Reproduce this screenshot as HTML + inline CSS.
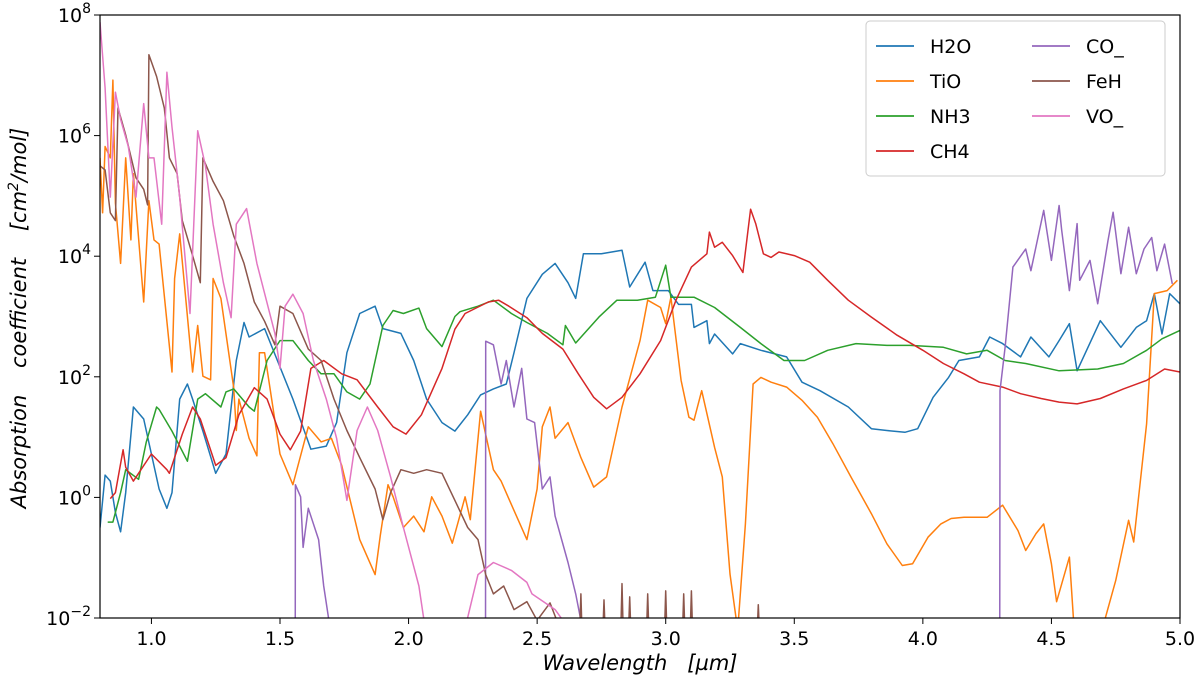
<!DOCTYPE html>
<html><head><meta charset="utf-8"><style>
html,body{margin:0;padding:0;background:#fff}
svg{display:block;font-family:"DejaVu Sans","Liberation Sans",sans-serif}
.pre{white-space:pre}
</style></head><body>
<svg id="chart" width="1200" height="681" viewBox="0 0 1200 681" xmlns="http://www.w3.org/2000/svg">
<defs><clipPath id="clip"><rect x="100" y="15" width="1080" height="603"/></clipPath></defs>
<g id="series" clip-path="url(#clip)"></g>
<rect x="100" y="15" width="1080" height="603" fill="none" stroke="#000" stroke-width="1.2"/>
<g id="axes"></g>
<text class="pre" x="640" y="670" text-anchor="middle" font-size="21" font-style="italic">Wavelength   [µm]</text>
<text class="pre" transform="translate(26,318) rotate(-90)" text-anchor="middle" font-size="21" font-style="italic">Absorption    coefficient    [cm<tspan dy="-8" font-size="14">2</tspan><tspan dy="8">/mol]</tspan></text>
<g id="legend"></g>
</svg>
<script>
const xTicks=[1.0,1.5,2.0,2.5,3.0,3.5,4.0,4.5,5.0];
const yTicks=[-2,0,2,4,6,8];
const seriesNames=["H2O","TiO","NH3","CH4","CO_","FeH","VO_"];
const seriesColors=["#1f77b4","#ff7f0e","#2ca02c","#d62728","#9467bd","#8c564b","#e377c2"];

const h2oX=[0.80,0.82,0.84,0.86,0.88,0.90,0.93,0.97,1.0,1.03,1.06,1.08,1.11,1.14,1.16,1.20,1.25,1.29,1.33,1.36,1.38,1.44,1.49,1.55,1.62,1.68,1.72,1.76,1.81,1.87,1.90,1.97,2.02,2.07,2.13,2.18,2.23,2.28,2.33,2.38,2.41,2.46,2.52,2.57,2.62,2.65,2.68,2.75,2.83,2.86,2.92,2.95,3.01,3.05,3.10,3.11,3.16,3.17,3.19,3.26,3.29,3.37,3.47,3.53,3.60,3.71,3.80,3.86,3.93,3.98,4.04,4.10,4.14,4.22,4.26,4.31,4.38,4.42,4.49,4.53,4.57,4.60,4.69,4.77,4.83,4.87,4.90,4.93,4.96,5.0];
const h2oY=[-0.5,0.37,0.27,-0.25,-0.57,0.08,1.5,1.3,0.72,0.14,-0.18,0.08,1.63,1.88,1.63,1.1,0.4,0.72,2.27,2.9,2.66,2.8,2.27,1.63,0.8,0.85,1.24,2.4,3.05,3.17,2.8,2.72,2.27,1.63,1.24,1.1,1.37,1.7,1.8,1.88,2.4,3.3,3.7,3.88,3.56,3.3,4.04,4.04,4.1,3.49,3.9,3.43,3.43,3.2,3.2,2.82,2.93,2.55,2.71,2.38,2.55,2.44,2.33,1.91,1.77,1.5,1.14,1.11,1.08,1.14,1.66,1.99,2.27,2.33,2.66,2.55,2.33,2.66,2.33,2.6,2.88,2.1,2.93,2.49,2.82,2.93,3.38,2.71,3.38,3.21];

const tioX=[0.80,0.81,0.82,0.84,0.85,0.86,0.88,0.90,0.92,0.93,0.97,0.99,1.01,1.03,1.08,1.09,1.11,1.16,1.18,1.20,1.23,1.24,1.27,1.32,1.33,1.34,1.38,1.41,1.42,1.44,1.50,1.55,1.61,1.66,1.70,1.74,1.81,1.87,1.89,1.92,1.94,1.98,2.02,2.06,2.09,2.13,2.17,2.22,2.24,2.28,2.33,2.36,2.40,2.46,2.50,2.52,2.55,2.57,2.62,2.67,2.72,2.77,2.83,2.90,2.93,2.98,3.0,3.02,3.06,3.09,3.11,3.14,3.19,3.22,3.25,3.28,3.31,3.34,3.37,3.41,3.47,3.53,3.59,3.65,3.72,3.80,3.86,3.92,3.96,4.02,4.07,4.11,4.16,4.25,4.31,4.37,4.40,4.44,4.47,4.50,4.52,4.57,4.59,4.69,4.75,4.80,4.82,4.87,4.90,4.95,4.99];
const tioY=[5.63,4.72,5.82,5.63,6.92,4.88,3.88,5.63,4.27,5.37,3.24,4.92,4.27,4.2,2.08,3.63,4.37,2.08,2.85,2.01,1.95,3.63,3.3,1.82,1.11,1.63,0.98,0.69,2.4,2.4,0.72,0.21,1.17,0.92,0.98,0.53,-0.7,-1.28,-0.63,0.21,0.01,-0.5,-0.31,-0.57,0.01,-0.31,-0.76,0.01,-0.37,1.43,0.46,0.27,-0.12,-0.7,0.14,1.17,1.5,0.98,1.24,0.66,0.17,0.34,1.5,2.6,3.27,3.15,2.88,3.32,1.94,1.33,1.28,1.77,0.83,0.34,-1.27,-2.2,-0.44,1.88,1.99,1.91,1.83,1.61,1.33,0.89,0.34,-0.27,-0.77,-1.13,-1.1,-0.66,-0.44,-0.35,-0.33,-0.33,-0.13,-0.55,-0.88,-0.6,-0.44,-1.1,-1.73,-0.99,-2.3,-2.3,-1.38,-0.38,-0.74,1.22,3.38,3.43,3.6];

const nh3X=[0.83,0.85,0.88,0.90,0.95,0.98,1.02,1.03,1.08,1.14,1.18,1.21,1.27,1.29,1.32,1.38,1.40,1.45,1.50,1.55,1.61,1.66,1.71,1.76,1.81,1.85,1.90,1.94,1.98,2.04,2.07,2.13,2.18,2.20,2.27,2.33,2.40,2.46,2.54,2.60,2.61,2.65,2.74,2.81,2.89,2.96,3.0,3.02,3.11,3.19,3.29,3.37,3.46,3.54,3.63,3.74,3.86,3.95,4.08,4.17,4.25,4.32,4.40,4.53,4.68,4.78,4.87,4.93,5.0];
const nh3Y=[-0.41,-0.41,0.08,0.46,0.3,0.92,1.5,1.46,1.1,0.6,1.63,1.72,1.5,1.75,1.8,1.5,1.43,2.27,2.6,2.6,2.27,2.05,2.05,1.75,1.63,1.88,2.85,3.1,3.05,3.14,2.8,2.5,3.0,3.08,3.17,3.27,3.05,2.9,2.72,2.53,2.85,2.56,2.99,3.27,3.27,3.32,3.85,3.32,3.32,3.15,2.82,2.55,2.27,2.27,2.44,2.55,2.52,2.52,2.49,2.38,2.44,2.27,2.22,2.1,2.13,2.22,2.44,2.63,2.77];

const ch4X=[0.84,0.86,0.89,0.90,0.93,1.0,1.06,1.07,1.12,1.16,1.19,1.25,1.29,1.34,1.40,1.45,1.50,1.54,1.58,1.62,1.67,1.74,1.80,1.88,1.94,1.99,2.05,2.13,2.18,2.22,2.31,2.35,2.39,2.46,2.52,2.60,2.66,2.72,2.77,2.83,2.90,2.98,3.04,3.10,3.16,3.17,3.19,3.22,3.26,3.30,3.32,3.33,3.35,3.38,3.41,3.44,3.50,3.56,3.63,3.71,3.80,3.90,4.0,4.08,4.16,4.22,4.31,4.38,4.46,4.53,4.60,4.69,4.78,4.87,4.94,5.0];
const ch4Y=[-0.02,0.08,0.79,0.5,0.27,0.72,0.46,0.4,1.05,1.5,1.3,0.53,0.66,1.37,1.82,1.63,1.05,0.79,1.1,2.14,2.27,2.05,1.95,1.5,1.17,1.05,1.37,2.14,2.79,3.05,3.24,3.27,3.17,2.98,2.72,2.46,2.05,1.66,1.47,1.66,2.05,2.6,3.27,3.82,4.04,4.4,4.15,4.23,4.01,3.73,4.43,4.78,4.54,4.04,3.98,4.07,4.01,3.9,3.6,3.27,2.99,2.69,2.44,2.22,2.05,1.91,1.83,1.72,1.64,1.58,1.55,1.64,1.8,1.94,2.13,2.08];

const coX=[1.559,1.56,1.58,1.59,1.61,1.65,1.67,1.69,1.70,null,2.299,2.30,2.33,2.36,2.38,2.41,2.44,2.46,2.49,2.52,2.55,2.57,2.62,2.65,2.67,2.68,null,4.299,4.30,4.32,4.35,4.40,4.42,4.47,4.50,4.53,4.54,4.57,4.60,4.61,4.65,4.68,4.72,4.74,4.77,4.80,4.83,4.86,4.89,4.91,4.94,4.97,5.0];
const coY=[-3,0.21,0.01,-0.83,-0.18,-0.7,-1.47,-2.04,-3,null,-3,2.59,2.53,1.88,2.27,1.5,2.14,1.3,1.24,0.14,0.34,-0.31,-1.08,-1.6,-2.04,-3,null,-3,1.77,2.49,3.82,4.12,3.76,4.76,3.93,4.84,4.43,3.43,4.54,3.6,3.93,3.21,4.26,4.73,3.71,4.48,3.71,4.12,4.31,3.76,4.2,3.54];

const fehX=[0.80,0.82,0.84,0.86,0.87,0.90,0.94,0.97,0.985,0.99,1.02,1.05,1.07,1.10,1.12,1.16,1.19,1.20,1.24,1.28,1.32,1.36,1.40,1.44,1.48,1.50,1.55,1.61,1.66,1.71,1.76,1.81,1.87,1.90,1.93,1.97,2.02,2.07,2.13,2.18,2.23,2.27,2.30,2.33,2.37,2.41,2.46,2.50,2.55,2.60,2.665,2.67,2.675,2.755,2.76,2.765,2.825,2.83,2.835,2.855,2.86,2.865,2.925,2.93,2.935,2.995,3.0,3.005,3.065,3.07,3.075,3.095,3.10,3.105,3.355,3.36,3.365];
const fehY=[5.5,5.43,4.72,4.59,6.46,6.01,5.3,5.11,4.85,7.34,6.98,6.46,5.63,5.37,4.59,4.01,3.56,5.63,5.24,4.92,4.34,3.88,3.24,2.92,2.53,3.17,3.05,2.46,2.27,1.63,1.11,0.66,0.14,-0.37,0.08,0.46,0.4,0.46,0.4,-0.05,-0.5,-0.7,-1.28,-1.6,-1.47,-1.86,-1.73,-2.04,-1.75,-2.3,-2.3,-1.6,-2.3,-2.3,-1.7,-2.3,-2.3,-1.43,-2.3,-2.3,-1.65,-2.3,-2.3,-1.6,-2.3,-2.3,-1.55,-2.3,-2.3,-1.6,-2.3,-2.3,-1.55,-2.3,-2.3,-1.78,-2.3];

const voX=[0.80,0.82,0.84,0.86,0.88,0.91,0.94,0.97,0.99,1.01,1.04,1.06,1.08,1.11,1.15,1.18,1.21,1.24,1.28,1.31,1.33,1.37,1.41,1.48,1.50,1.52,1.55,1.59,1.63,1.68,1.72,1.76,1.80,1.84,1.88,1.93,1.98,2.04,2.06,2.07,null,2.22,2.23,2.27,2.33,2.40,2.46,2.48,2.57,2.60,2.61];
const voY=[7.88,6.79,4.98,6.72,6.27,5.82,4.98,6.53,5.63,5.63,4.53,7.05,6.14,4.98,3.05,6.08,5.5,4.53,3.56,2.98,4.53,4.79,3.88,2.72,2.14,3.17,3.37,3.05,2.27,1.63,0.98,-0.05,1.11,1.5,1.11,0.34,-0.5,-1.47,-2.04,-3,null,-3,-1.99,-1.28,-1.08,-1.21,-1.41,-1.6,-1.86,-2.04,-3];

const allX=[h2oX,tioX,nh3X,ch4X,coX,fehX,voX];
const allY=[h2oY,tioY,nh3Y,ch4Y,coY,fehY,voY];

const L=100,R=1180,T=15,B=618;
function xs(v){return L+(v-0.8)/(5.0-0.8)*(R-L);}
function ys(v){return B-(v-(-2))/(8-(-2))*(B-T);}
const NS="http://www.w3.org/2000/svg";
function mk(tag,attrs){const e=document.createElementNS(NS,tag);for(const k in attrs)e.setAttribute(k,attrs[k]);return e;}

const axes=document.getElementById('axes');
xTicks.forEach(t=>{
  const x=xs(t);
  const ln=mk('line',{x1:x,x2:x,y1:B,y2:B+6,stroke:'#000','stroke-width':1});
  
  
  axes.appendChild(ln);
  const tx=mk('text',{x:x,y:B+27,'text-anchor':'middle','font-size':19});
  
  
  tx.textContent=t.toFixed(1);
  axes.appendChild(tx);
});
yTicks.forEach(t=>{
  const y=ys(t);
  const ln=mk('line',{x1:L-6,x2:L,y1:y,y2:y,stroke:'#000','stroke-width':1});
  
  
  axes.appendChild(ln);
  const tx=mk('text',{x:L-9,y:y+7,'text-anchor':'end','font-size':19});
  
  
  const base=document.createElementNS(NS,'tspan');base.textContent='10';
  const sup=document.createElementNS(NS,'tspan');sup.setAttribute('dy','-9');sup.setAttribute('font-size','14');
  sup.textContent=(t<0?'\u2212'+(-t):''+t);
  tx.appendChild(base);tx.appendChild(sup);
  axes.appendChild(tx);
});

const g=document.getElementById('series');
for(let s=0;s<seriesNames.length;s++){
  const X=allX[s],Y=allY[s];let d='',pen=false;
  for(let i=0;i<X.length;i++){
    if(X[i]===null||Y[i]===null){pen=false;continue;}
    d+=(pen?'L':'M')+xs(X[i]).toFixed(1)+' '+ys(Y[i]).toFixed(1);pen=true;
  }
  const p=mk('path',{d:d,fill:'none',stroke:seriesColors[s],'stroke-width':1.5,'stroke-linejoin':'round'});
  
  
  g.appendChild(p);
}

const lg=document.getElementById('legend');
const box=mk('rect',{x:866,y:21,width:299,height:155,rx:4,fill:'#fff',stroke:'#ccc','stroke-width':1});


lg.appendChild(box);
const rows=[46,81,116,151];
for(let s=0;s<seriesNames.length;s++){
  const col=s<4?0:1,row=s<4?s:s-4;
  const x0=col?1032:876,y=rows[row];
  const ln=mk('line',{x1:x0,x2:x0+38,y1:y,y2:y,stroke:seriesColors[s],'stroke-width':1.8});
  
  
  lg.appendChild(ln);
  const tx=mk('text',{x:x0+54,y:y+7,'font-size':19});
  
  
  tx.textContent=seriesNames[s];
  lg.appendChild(tx);
}
</script>
</body></html>
